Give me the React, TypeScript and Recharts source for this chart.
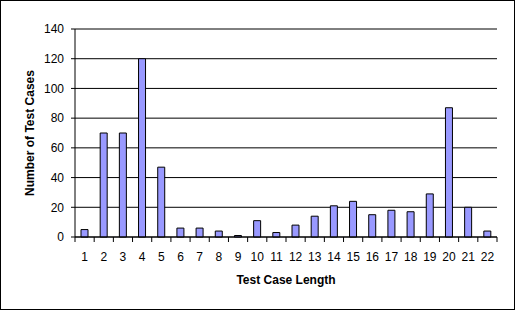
import { BarChart, Bar, XAxis, YAxis, CartesianGrid } from "recharts";

const lengths = [1, 2, 3, 4, 5, 6, 7, 8, 9, 10, 11, 12, 13, 14, 15, 16, 17, 18, 19, 20, 21, 22];
const counts = [5, 70, 70, 120, 47, 6, 6, 4, 1, 11, 3, 8, 14, 21, 24, 15, 18, 17, 29, 87, 20, 4];
const yTicks = [0, 20, 40, 60, 80, 100, 120, 140];

const data = lengths.map((length, i) => ({ length, count: counts[i] }));

// tick marks sit between the categories, labels sit on them
const boundaries = [...lengths.map((v) => v - 0.5), lengths[lengths.length - 1] + 0.5];
const xTicks = [...lengths, ...boundaries].sort((a, b) => a - b);

const TICK_SIZE = 5;
const TICK_MARGIN = 10;
const FONT = 'Arial, "Liberation Sans", sans-serif';

function LengthTick(props: any) {
  const { x, y, payload } = props;
  const v = payload.value;
  if (Number.isInteger(v)) {
    return (
      <text x={x} y={y} dy="0.71em" textAnchor="middle" fontSize={12} fill="#000" fontFamily={FONT}>
        {v}
      </text>
    );
  }
  return <line x1={x} x2={x} y1={y - TICK_MARGIN - TICK_SIZE} y2={y - TICK_MARGIN} stroke="#000" />;
}

function XTitle(props: any) {
  const vb = props.viewBox || { x: 75, y: 237, width: 422 };
  return (
    <text
      x={vb.x + vb.width / 2}
      y={vb.y + 47}
      textAnchor="middle"
      fontSize={12}
      fontWeight="bold"
      fill="#000"
      fontFamily={FONT}
    >
      Test Case Length
    </text>
  );
}

function YTitle(props: any) {
  const vb = props.viewBox || { x: 0, y: 29, height: 208 };
  const cx = 30;
  const cy = vb.y + vb.height / 2;
  return (
    <text
      x={cx}
      y={cy}
      transform={`rotate(-90, ${cx}, ${cy})`}
      textAnchor="middle"
      dominantBaseline="central"
      fontSize={12}
      fontWeight="bold"
      fill="#000"
      fontFamily={FONT}
    >
      Number of Test Cases
    </text>
  );
}

export default function App() {
  return (
    <div style={{ position: "absolute", left: 0, top: 0, width: 516, height: 311, background: "#fff" }}>
      <div
        style={{
          position: "absolute",
          left: 0,
          top: 0,
          width: 515,
          height: 310,
          border: "1px solid #000",
          boxSizing: "border-box",
        }}
      />
      <div style={{ position: "absolute", left: 0, top: 0 }}>
        <BarChart
          width={516}
          height={311}
          data={data}
          margin={{ top: 29, right: 19, bottom: 0, left: 0 }}
          style={{ fontFamily: FONT }}
        >
          <CartesianGrid vertical={false} stroke="#000" strokeWidth={1} />
          <XAxis
            type="number"
            dataKey="length"
            domain={[0.5, 22.5]}
            ticks={xTicks}
            interval={0}
            tick={<LengthTick />}
            tickLine={false}
            tickSize={TICK_SIZE}
            tickMargin={TICK_MARGIN}
            height={74}
            axisLine={{ stroke: "#000" }}
            label={{ content: XTitle }}
          />
          <YAxis
            domain={[0, 140]}
            ticks={yTicks}
            interval={0}
            width={75}
            tickSize={4}
            tickMargin={7}
            tick={{ fill: "#000", fontSize: 12, fontFamily: FONT }}
            tickLine={{ stroke: "#000" }}
            axisLine={{ stroke: "#000" }}
            label={{ content: YTitle }}
          />
          <YAxis
            yAxisId="right"
            orientation="right"
            domain={[0, 140]}
            width={0}
            tick={false}
            tickLine={false}
            axisLine={{ stroke: "#000" }}
          />
          <Bar
            dataKey="count"
            barSize={7}
            fill="#9999FF"
            stroke="#000"
            strokeWidth={1}
            isAnimationActive={false}
          />
        </BarChart>
      </div>
    </div>
  );
}
